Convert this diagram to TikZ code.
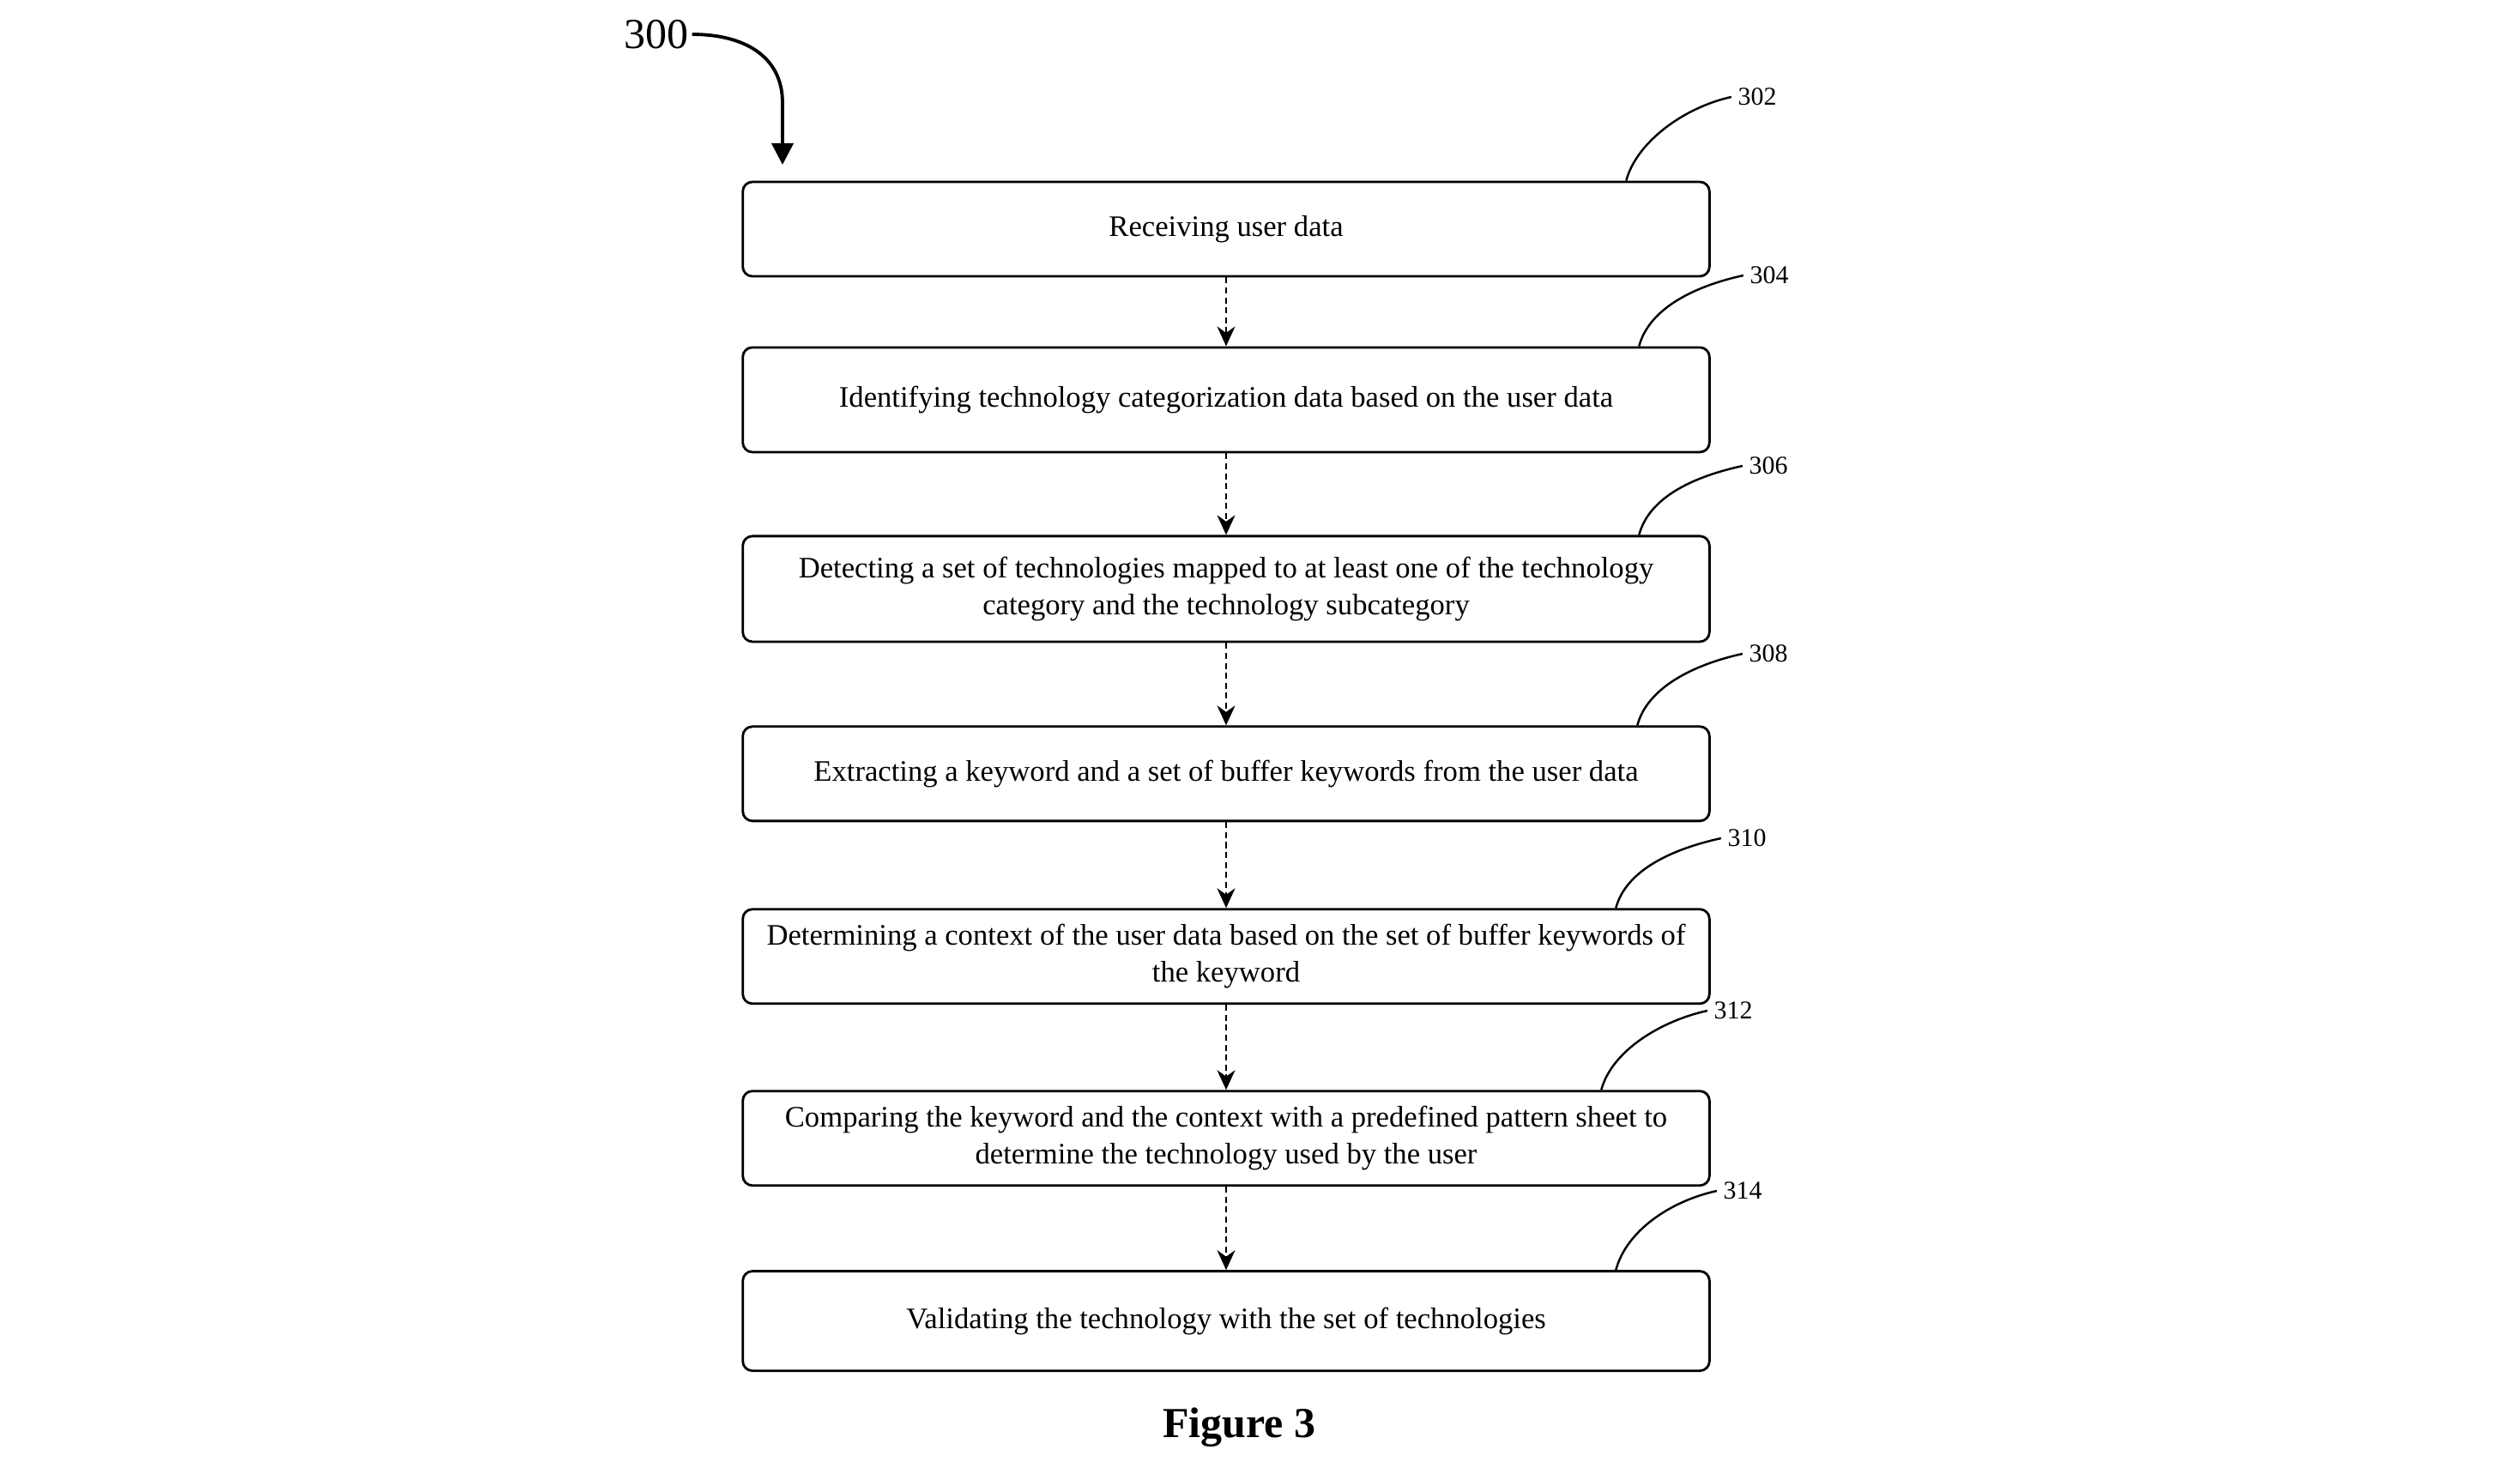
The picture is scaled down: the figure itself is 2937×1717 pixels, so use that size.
\documentclass[tikz,border=0pt]{standalone}
\usepackage{fontspec}
\setmainfont{Liberation Serif}
\usepackage{tikz}
\usetikzlibrary{arrows.meta}
\usetikzlibrary{positioning}
\usetikzlibrary{calc}
\tikzstyle{stepbox}=[draw,line width=0.8pt,rounded corners=3.2pt,minimum width=11.26cm,inner sep=0pt,align=center,font=\fontsize{9.85}{12.2}\selectfont]
\tikzstyle{flow}=[draw,dashed,dash pattern=on 2pt off 1.3pt,line width=0.6pt,-{Stealth[length=2.3mm,width=2.1mm]}]
\tikzstyle{leader}=[draw,line width=0.7pt]
\tikzstyle{refnum}=[inner sep=2pt,font=\fontsize{8.5}{10}\selectfont]

\begin{document}
\begin{tikzpicture}[x=0.01cm,y=-0.01cm]
\useasboundingbox (0,0) rectangle (2937,1717);
% steps
\node [stepbox,minimum height=1.10cm] (b1) at (1429,267) {Receiving user data};
\node [stepbox,minimum height=1.22cm,below=0.80cm of b1] (b2) {Identifying technology categorization data based on the user data};
\node [stepbox,minimum height=1.23cm,below=0.95cm of b2] (b3) {Detecting a set of technologies mapped to at least one of the technology\\category and the technology subcategory};
\node [stepbox,minimum height=1.10cm,below=0.96cm of b3] (b4) {Extracting a keyword and a set of buffer keywords from the user data};
\node [stepbox,minimum height=1.10cm,below=1.00cm of b4] (b5) {Determining a context of the user data based on the set of buffer keywords of\\the keyword};
\node [stepbox,minimum height=1.10cm,below=0.99cm of b5] (b6) {Comparing the keyword and the context with a predefined pattern sheet to\\determine the technology used by the user};
\node [stepbox,minimum height=1.16cm,below=0.97cm of b6] (b7) {Validating the technology with the set of technologies};
\draw [flow] (b1.south) -- (b2.north);
\draw [flow] (b2.south) -- (b3.north);
\draw [flow] (b3.south) -- (b4.north);
\draw [flow] (b4.south) -- (b5.north);
\draw [flow] (b5.south) -- (b6.north);
\draw [flow] (b6.south) -- (b7.north);
% reference numerals
\node [refnum] (n302) at (2048,113) {302};
\node [refnum] (n304) at (2062,321) {304};
\node [refnum] (n306) at (2061,543) {306};
\node [refnum] (n308) at (2061,762) {308};
\node [refnum] (n310) at (2036,977) {310};
\node [refnum] (n312) at (2020,1178) {312};
\node [refnum] (n314) at (2031,1388) {314};
\draw [leader] ($(b1.north west)+(1031,0)$) .. controls +(12,-45) and +(-55,12) .. (n302.west);
\draw [leader] ($(b2.north west)+(1046,0)$) .. controls +(12,-45) and +(-55,12) .. (n304.west);
\draw [leader] ($(b3.north west)+(1046,0)$) .. controls +(12,-45) and +(-55,12) .. (n306.west);
\draw [leader] ($(b4.north west)+(1044,0)$) .. controls +(12,-45) and +(-55,12) .. (n308.west);
\draw [leader] ($(b5.north west)+(1019,0)$) .. controls +(12,-45) and +(-55,12) .. (n310.west);
\draw [leader] ($(b6.north west)+(1002,0)$) .. controls +(12,-45) and +(-55,12) .. (n312.west);
\draw [leader] ($(b7.north west)+(1019,0)$) .. controls +(12,-45) and +(-55,12) .. (n314.west);
% figure number and caption
\node [inner sep=1pt,font=\fontsize{14.2}{16}\selectfont] (n300) at (765,40) {300};
\coordinate (a300) at (912,192);
\draw [line width=1.1pt,-{Triangle[length=2.5mm,width=2.5mm]}] (n300.east) .. controls +(60,0) and +(0,-55) .. (912,120) -- (a300);
\node [font=\fontsize{14.2}{16}\selectfont\bfseries] (cap) at (1444,1664) {Figure 3};
\end{tikzpicture}
\end{document}
